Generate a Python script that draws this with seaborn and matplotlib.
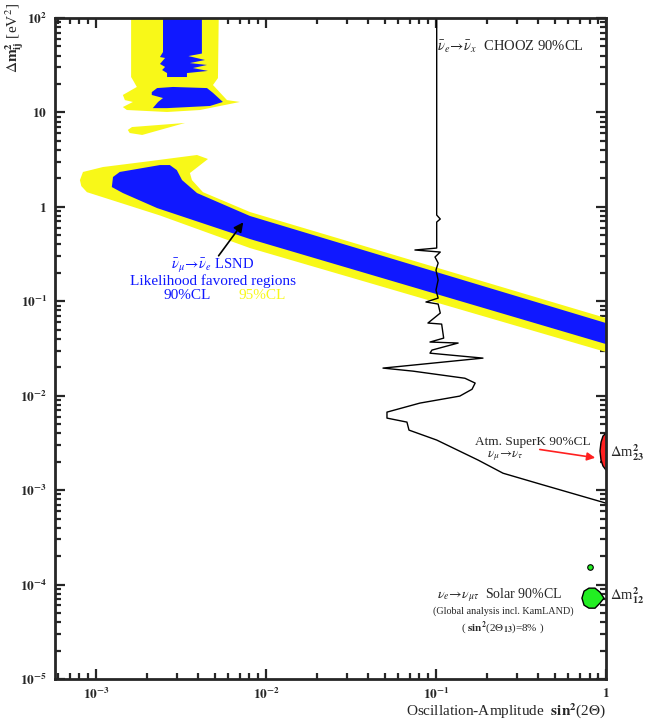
import matplotlib
matplotlib.use("Agg")
import matplotlib.pyplot as plt
from matplotlib.ticker import FixedLocator, LogLocator, NullFormatter
import seaborn as sns
import numpy as np

# ---------------- data ----------------
# LSND 95% CL (yellow) main diagonal band
lsnd95_band_x = [8.05e-4, 8.39e-4, 1.10e-3, 2.08e-3, 3.93e-3, 4.56e-3, 3.57e-3, 3.67e-3,
                 4.26e-3, 8.05e-3, 1.0, 1.0, 8.05e-3, 2.38e-3, 8.85e-4, 8.2e-4]
lsnd95_band_y = [1.92, 2.34, 2.64, 3.05, 3.54, 3.21, 2.28, 1.92,
                 1.43, 0.881, 0.0664, 0.0290, 0.366, 0.81, 1.43, 1.66]
# LSND 90% CL (blue) main diagonal band
lsnd90_band_x = [1.24e-3, 1.26e-3, 1.38e-3, 2.38e-3, 2.72e-3, 2.99e-3, 3.21e-3, 3.93e-3,
                 8.05e-3, 1.0, 1.0, 8.05e-3, 2.29e-3, 1.44e-3]
lsnd90_band_y = [1.62, 2.07, 2.34, 2.77, 2.77, 2.45, 1.92, 1.40,
                 0.80, 0.0588, 0.0352, 0.456, 0.97, 1.40]
# LSND 95% CL high-mass island
lsnd95_high_x = [1.61e-3, 1.61e-3, 1.65e-3, 1.74e-3, 1.44e-3, 1.48e-3, 1.65e-3, 1.44e-3,
                 1.52e-3, 2.62e-3, 4.09e-3, 7.03e-3, 5.90e-3, 4.88e-3, 5.22e-3, 5.29e-3]
lsnd95_high_y = [150, 23.7, 22.0, 18.6, 15.3, 13.5, 12.9, 11.4,
                 10.6, 10.1, 10.6, 12.9, 13.5, 19.5, 23.1, 150]
# LSND 95% CL small island near 7 eV^2
lsnd95_small_x = [1.54e-3, 1.63e-3, 3.34e-3, 2.62e-3, 1.87e-3, 1.58e-3]
lsnd95_small_y = [6.52, 7.00, 7.73, 6.84, 5.77, 6.05]
# LSND 90% CL high-mass column
lsnd90_col_x = [2.48e-3, 2.48e-3, 2.38e-3, 2.55e-3, 2.38e-3, 2.55e-3, 2.45e-3, 2.62e-3,
                2.62e-3, 3.43e-3, 3.43e-3, 4.56e-3, 3.72e-3, 4.50e-3, 3.57e-3, 4.38e-3,
                3.50e-3, 4.20e-3, 4.20e-3]
lsnd90_col_y = [150, 43.6, 38.6, 37.7, 32.6, 30.3, 28.1, 26.1,
                23.7, 23.7, 26.1, 27.5, 29.5, 31.8, 33.3, 35.9,
                39.5, 42.0, 150]
# LSND 90% CL blob near 15 eV^2
lsnd90_blob_x = [2.13e-3, 2.29e-3, 2.84e-3, 4.50e-3, 4.88e-3, 5.58e-3, 4.69e-3, 2.62e-3,
                 2.16e-3, 2.32e-3, 2.48e-3, 2.13e-3]
lsnd90_blob_y = [16.4, 18.1, 18.6, 18.1, 16.1, 12.9, 11.7, 11.1,
                 11.1, 12.9, 14.2, 15.3]

# CHOOZ 90% CL exclusion curve
chooz_x = [0.101, 0.101, 0.106, 0.101, 0.101, 0.0752, 0.106, 0.0987, 0.103, 0.100,
           0.103, 0.100, 0.103, 0.0873, 0.103, 0.106, 0.0897, 0.108, 0.111, 0.0922,
           0.135, 0.0947, 0.0922, 0.189, 0.0488, 0.0732, 0.148, 0.170, 0.163, 0.138,
           0.0805, 0.0515, 0.0515, 0.0675, 0.0694, 0.101, 0.177, 0.248, 0.409, 1.0]
chooz_y = [100, 0.818, 0.743, 0.690, 0.366, 0.349, 0.332, 0.294, 0.254, 0.214,
           0.168, 0.131, 0.108, 0.0982, 0.0934, 0.075, 0.0588, 0.0573, 0.0407, 0.0370,
           0.0361, 0.0304, 0.0282, 0.0250, 0.0196, 0.0182, 0.0153, 0.0136, 0.0117, 0.0099,
           0.00835, 0.00670, 0.00579, 0.00525, 0.00432, 0.00339, 0.00208, 0.00151, 0.00116, 0.000728]

# Atmospheric SuperK 90% CL region
superk_x = [1.0, 0.960, 0.935, 0.922, 0.935, 0.960, 1.0, 1.042, 1.07, 1.085, 1.07, 1.042]
superk_y = [4.02e-3, 3.73e-3, 3.22e-3, 2.59e-3, 2.08e-3, 1.80e-3, 1.63e-3,
            1.80e-3, 2.08e-3, 2.59e-3, 3.22e-3, 3.73e-3]

# Solar 90% CL regions
solar_big_x = [0.722, 0.743, 0.794, 0.862, 0.922, 0.973, 0.922, 0.862, 0.794, 0.743]
solar_big_y = [7.18e-5, 8.51e-5, 9.16e-5, 9.16e-5, 8.30e-5, 7.18e-5, 6.35e-5, 5.62e-5, 5.62e-5, 6.05e-5]
solar_small_x = [0.805]
solar_small_y = [1.53e-4]

x_ticks = [1e-3, 1e-2, 1e-1, 1]
x_tick_labels = [r'$\mathbf{10^{-3}}$', r'$\mathbf{10^{-2}}$', r'$\mathbf{10^{-1}}$', r'$\mathbf{1}$']
y_ticks = [1e-5, 1e-4, 1e-3, 1e-2, 1e-1, 1, 10, 100]
y_tick_labels = [r'$\mathbf{10^{-5}}$', r'$\mathbf{10^{-4}}$', r'$\mathbf{10^{-3}}$',
                 r'$\mathbf{10^{-2}}$', r'$\mathbf{10^{-1}}$', r'$\mathbf{1}$',
                 r'$\mathbf{10}$', r'$\mathbf{10^{2}}$']

# ---------------- style ----------------
sns.set_style("ticks")
plt.rcParams['font.family'] = ['Liberation Serif', 'DejaVu Serif']
plt.rcParams['mathtext.fontset'] = 'stix'

YELLOW = '#f8f818'
BLUE = '#1018ff'
RED = '#ff2020'
GREEN = '#22ee22'

fig = plt.figure(figsize=(6.45, 7.22), dpi=100)
ax = fig.add_axes([0.0860, 0.0596, 0.8535, 0.9155])
ax.set_xscale('log')
ax.set_yscale('log')
ax.set_xlim(5.78e-4, 1.0)
ax.set_ylim(1e-5, 1e2)

# LSND regions
for xs, ys in [(lsnd95_band_x, lsnd95_band_y), (lsnd95_high_x, lsnd95_high_y),
               (lsnd95_small_x, lsnd95_small_y)]:
    ax.fill(xs, ys, color=YELLOW, lw=0, zorder=1)
for xs, ys in [(lsnd90_band_x, lsnd90_band_y), (lsnd90_col_x, lsnd90_col_y),
               (lsnd90_blob_x, lsnd90_blob_y)]:
    ax.fill(xs, ys, color=BLUE, lw=0, zorder=2)

# CHOOZ line
sns.lineplot(x=chooz_x, y=chooz_y, sort=False, estimator=None, color='black', lw=1.0,
             ax=ax, zorder=4)

# SuperK
ax.fill(superk_x, superk_y, facecolor=RED, edgecolor='black', lw=1.0, zorder=3)

# Solar
ax.fill(solar_big_x, solar_big_y, facecolor=GREEN, edgecolor='black', lw=1.0, zorder=3)
sns.scatterplot(x=solar_small_x, y=solar_small_y, s=16, color=GREEN, edgecolor='black',
                linewidth=0.8, ax=ax, zorder=3)

# ---------------- axes decoration ----------------
ax.xaxis.set_major_locator(FixedLocator(x_ticks))
ax.set_xticklabels(x_tick_labels)
ax.yaxis.set_major_locator(FixedLocator(y_ticks))
ax.set_yticklabels(y_tick_labels)
ax.xaxis.set_minor_locator(LogLocator(base=10, subs=np.arange(2, 10)))
ax.yaxis.set_minor_locator(LogLocator(base=10, subs=np.arange(2, 10)))
ax.xaxis.set_minor_formatter(NullFormatter())
ax.yaxis.set_minor_formatter(NullFormatter())
ax.tick_params(which='both', direction='in', top=True, right=True, width=1.6, labelsize=9.5)
ax.tick_params(which='major', length=7, pad=6)
ax.tick_params(which='minor', length=4)
for sp in ax.spines.values():
    sp.set_linewidth(2.0)
    sp.set_zorder(6)

# ---------------- texts ----------------
ax.text(0.101, 49.3, r'$\bar{\nu}_e\!\rightarrow\!\bar{\nu}_x$  CHOOZ 90%CL',
        fontsize=10.5, ha='left', va='center', zorder=7)

ax.text(4.88e-3, 0.238, r'$\bar{\nu}_\mu\!\rightarrow\!\bar{\nu}_e$ LSND', color=BLUE,
        fontsize=10.5, ha='center', va='center', zorder=7)
ax.text(4.88e-3, 0.164, 'Likelihood favored regions', color=BLUE,
        fontsize=11, ha='center', va='center', zorder=7)
ax.text(3.43e-3, 0.116, '90%CL', color=BLUE, fontsize=11, ha='center', va='center', zorder=7)
ax.text(9.47e-3, 0.116, '95%CL', color=YELLOW, fontsize=11, ha='center', va='center', zorder=7)
ax.annotate('', xy=(7.52e-3, 0.724), xytext=(5.15e-3, 0.287),
            arrowprops=dict(arrowstyle='-|>', color='black', lw=1.2, mutation_scale=14),
            zorder=7)

ax.text(0.372, 3.22e-3, 'Atm. SuperK 90%CL', fontsize=9.5, ha='center', va='center', zorder=7)
ax.text(0.255, 2.29e-3, r'$\nu_\mu\!\rightarrow\!\nu_\tau$', fontsize=9.5,
        ha='center', va='center', zorder=7)
ax.annotate('', xy=(0.897, 2.18e-3), xytext=(0.393, 2.72e-3),
            arrowprops=dict(arrowstyle='-|>', color=RED, lw=1.2, mutation_scale=12),
            zorder=7)
fig.text(644 / 645, 1 - 453 / 722, r'$\Delta$m$^{\mathbf{2}}_{\mathbf{23}}$', fontsize=10.5,
         ha='right', va='center')
fig.text(644 / 645, 1 - 596 / 722, r'$\Delta$m$^{\mathbf{2}}_{\mathbf{12}}$', fontsize=10.5,
         ha='right', va='center')

ax.text(0.238, 7.72e-5, r'$\nu_e\!\rightarrow\!\nu_{\mu\tau}$  Solar 90%CL', fontsize=10,
        ha='center', va='center', zorder=7)
ax.text(0.248, 5.22e-5, '(Global analysis incl. KamLAND)', fontsize=7.3,
        ha='center', va='center', zorder=7)
ax.text(0.248, 3.45e-5, r'( $\mathbf{sin^2}$(2$\Theta_{\mathbf{13}}$)=8% )', fontsize=8,
        ha='center', va='center', zorder=7)

fig.text(606 / 645, 1 - 711 / 722, r'Oscillation-Amplitude  $\mathbf{sin^2}$(2$\Theta$)',
         fontsize=11, ha='right', va='center')
fig.text(15 / 645, 1 - 38 / 722, r'$\Delta\mathbf{m^2_{ij}}$ [eV$^2$]', fontsize=11,
         rotation=90, ha='center', va='center')

fig.savefig('out.png', dpi=100)
